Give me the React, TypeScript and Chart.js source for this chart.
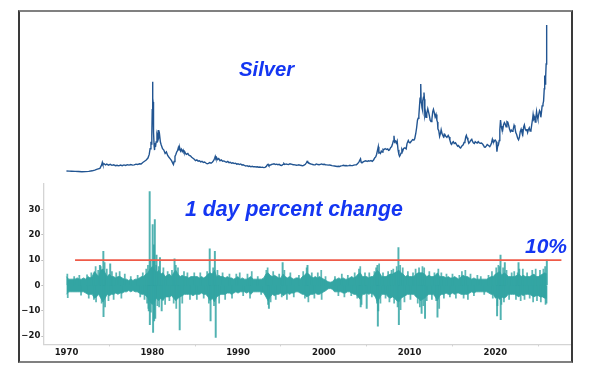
import React, { useEffect, useRef } from "react";
import { Chart, registerables } from "chart.js";
Chart.register(...registerables);

// ---- Silver price (USD/oz) ----
const silverYears = [
  1970.0, 1970.3, 1970.6, 1971.0, 1971.4, 1971.8, 1972.2, 1972.6, 1973.0, 1973.3, 1973.6, 1973.9,
  1974.1, 1974.18, 1974.25, 1974.4, 1974.55, 1974.7, 1974.9, 1975.1, 1975.3, 1975.5, 1975.7, 1975.9,
  1976.1, 1976.3, 1976.5, 1976.7, 1976.9, 1977.1, 1977.3, 1977.5, 1977.7, 1977.9, 1978.1, 1978.3,
  1978.5, 1978.7, 1978.9, 1979.1, 1979.3, 1979.5, 1979.65, 1979.75, 1979.85, 1979.9, 1979.95, 1980.0,
  1980.04, 1980.07, 1980.1, 1980.13, 1980.17, 1980.22, 1980.27, 1980.33, 1980.38, 1980.45, 1980.55, 1980.62,
  1980.7, 1980.76, 1980.85, 1980.95, 1981.05, 1981.2, 1981.35, 1981.5, 1981.65, 1981.8, 1981.95, 1982.1,
  1982.25, 1982.4, 1982.47, 1982.55, 1982.65, 1982.75, 1982.85, 1982.95, 1983.05, 1983.12, 1983.2, 1983.3,
  1983.4, 1983.5, 1983.6, 1983.7, 1983.8, 1983.9, 1984.0, 1984.15, 1984.3, 1984.45, 1984.6, 1984.75,
  1984.9, 1985.05, 1985.2, 1985.35, 1985.5, 1985.65, 1985.8, 1985.95, 1986.1, 1986.25, 1986.4, 1986.55,
  1986.7, 1986.85, 1987.0, 1987.15, 1987.28, 1987.35, 1987.42, 1987.5, 1987.6, 1987.75, 1987.9, 1988.05,
  1988.2, 1988.35, 1988.5, 1988.65, 1988.8, 1988.95, 1989.1, 1989.25, 1989.4, 1989.55, 1989.7, 1989.85,
  1990.0, 1990.15, 1990.3, 1990.45, 1990.6, 1990.75, 1990.9, 1991.05, 1991.2, 1991.35, 1991.5, 1991.65,
  1991.8, 1991.95, 1992.1, 1992.25, 1992.4, 1992.55, 1992.7, 1992.85, 1993.0, 1993.15, 1993.3, 1993.4,
  1993.5, 1993.6, 1993.75, 1993.9, 1994.05, 1994.2, 1994.35, 1994.5, 1994.65, 1994.8, 1994.95, 1995.1,
  1995.25, 1995.35, 1995.45, 1995.6, 1995.75, 1995.9, 1996.05, 1996.2, 1996.35, 1996.5, 1996.65, 1996.8,
  1996.95, 1997.1, 1997.25, 1997.4, 1997.55, 1997.7, 1997.85, 1997.95, 1998.05, 1998.1, 1998.15, 1998.25,
  1998.4, 1998.55, 1998.7, 1998.85, 1999.0, 1999.15, 1999.3, 1999.45, 1999.6, 1999.75, 1999.9, 2000.05,
  2000.2, 2000.35, 2000.5, 2000.65, 2000.8, 2000.95, 2001.1, 2001.25, 2001.4, 2001.55, 2001.7, 2001.85,
  2002.0, 2002.15, 2002.3, 2002.45, 2002.6, 2002.75, 2002.9, 2003.05, 2003.2, 2003.35, 2003.5, 2003.65,
  2003.8, 2003.95, 2004.1, 2004.2, 2004.28, 2004.35, 2004.45, 2004.6, 2004.75, 2004.9, 2005.05, 2005.2,
  2005.35, 2005.5, 2005.65, 2005.8, 2005.95, 2006.05, 2006.15, 2006.25, 2006.35, 2006.42, 2006.5, 2006.6,
  2006.7, 2006.8, 2006.9, 2007.0, 2007.15, 2007.3, 2007.45, 2007.55, 2007.65, 2007.8, 2007.9, 2008.0,
  2008.1, 2008.18, 2008.25, 2008.35, 2008.45, 2008.55, 2008.65, 2008.75, 2008.83, 2008.92, 2009.0, 2009.1,
  2009.2, 2009.3, 2009.45, 2009.6, 2009.7, 2009.85, 2009.95, 2010.05, 2010.2, 2010.35, 2010.5, 2010.6,
  2010.72, 2010.82, 2010.92, 2011.0, 2011.08, 2011.15, 2011.22, 2011.3, 2011.35, 2011.4, 2011.45, 2011.5,
  2011.55, 2011.62, 2011.68, 2011.73, 2011.78, 2011.85, 2011.92, 2012.0, 2012.12, 2012.2, 2012.3, 2012.4,
  2012.5, 2012.6, 2012.7, 2012.78, 2012.88, 2012.98, 2013.08, 2013.18, 2013.25, 2013.3, 2013.4, 2013.5,
  2013.6, 2013.68, 2013.78, 2013.88, 2014.0, 2014.1, 2014.2, 2014.35, 2014.5, 2014.6, 2014.7, 2014.8,
  2014.9, 2015.0, 2015.1, 2015.2, 2015.35, 2015.5, 2015.6, 2015.7, 2015.85, 2015.95, 2016.1, 2016.25,
  2016.35, 2016.45, 2016.55, 2016.62, 2016.7, 2016.8, 2016.9, 2017.0, 2017.12, 2017.25, 2017.35, 2017.45,
  2017.55, 2017.65, 2017.75, 2017.88, 2018.0, 2018.12, 2018.25, 2018.38, 2018.5, 2018.62, 2018.72, 2018.82,
  2018.95, 2019.05, 2019.2, 2019.35, 2019.45, 2019.55, 2019.65, 2019.72, 2019.82, 2019.92, 2020.0, 2020.1,
  2020.18, 2020.25, 2020.35, 2020.45, 2020.52, 2020.6, 2020.68, 2020.75, 2020.85, 2020.95, 2021.05, 2021.15,
  2021.25, 2021.35, 2021.45, 2021.55, 2021.65, 2021.75, 2021.85, 2021.95, 2022.05, 2022.18, 2022.28, 2022.38,
  2022.48, 2022.6, 2022.7, 2022.8, 2022.9, 2023.0, 2023.1, 2023.2, 2023.3, 2023.38, 2023.48, 2023.58,
  2023.68, 2023.76, 2023.85, 2023.95, 2024.05, 2024.15, 2024.25, 2024.35, 2024.4, 2024.48, 2024.58, 2024.65,
  2024.73, 2024.8, 2024.88, 2024.96, 2025.05, 2025.15, 2025.25, 2025.3, 2025.38, 2025.45, 2025.55, 2025.62,
  2025.7, 2025.75, 2025.8, 2025.86, 2025.92, 2025.96, 2025.98, 2026.0,
];
const silverPrices = [
  1.8, 1.75, 1.7, 1.6, 1.55, 1.4, 1.45, 1.6, 1.9, 2.3, 2.8, 3.2,
  5.0, 6.3, 5.2, 5.6, 5.0, 5.4, 4.9, 5.3, 4.8, 5.1, 4.6, 4.8,
  4.5, 4.9, 4.6, 5.0, 4.7, 5.1, 4.9, 5.2, 4.9, 5.0, 5.4, 5.2,
  5.6, 5.5, 6.3, 6.9, 7.6, 8.6, 10.5, 13.5, 17.2, 16.0, 20.7, 34,
  48.7, 40, 38, 27, 22, 15, 12.8, 16.5, 14.5, 17, 20.5, 19,
  23.3, 19.5, 21, 17, 15.5, 13.5, 12.8, 11, 11.8, 10, 9, 8.2,
  7.2, 5.8, 5.2, 6.8, 9.5, 10.5, 11.8, 12.5, 14.2, 13, 14, 12.3,
  13.2, 12.0, 12.8, 11.5, 11.8, 10.8, 10.5, 11.0, 10.0, 9.8, 9.0, 8.5,
  8.0, 7.2, 7.6, 7.0, 7.2, 6.6, 6.9, 6.3, 6.5, 6.0, 5.6, 5.8,
  6.2, 5.9, 6.4, 7.2, 8.5, 9.5, 8.4, 8.9, 7.8, 8.3, 7.2, 7.6,
  6.9, 7.1, 6.7, 6.4, 6.8, 6.2, 6.4, 5.9, 6.1, 5.7, 5.9, 5.4,
  5.6, 5.2, 5.5, 5.0, 5.1, 4.7, 4.4, 4.6, 4.2, 4.4, 4.0, 4.3,
  4.0, 4.1, 3.9, 4.0, 3.8, 3.9, 3.7, 3.8, 3.6, 3.7, 4.2, 5.0,
  5.3, 4.6, 4.9, 5.2, 5.4, 5.6, 5.2, 5.4, 5.1, 5.3, 4.8, 4.7,
  5.3, 5.7, 5.2, 5.5, 5.3, 5.2, 5.6, 5.4, 5.2, 5.1, 5.0, 4.8,
  4.9, 5.1, 4.8, 4.7, 4.5, 4.9, 5.3, 6.0, 6.8, 7.2, 6.4, 6.1,
  5.6, 5.4, 5.2, 5.0, 5.1, 5.5, 5.2, 5.1, 5.3, 5.5, 5.2, 5.3,
  5.1, 5.0, 4.9, 5.0, 4.8, 4.6, 4.5, 4.4, 4.3, 4.2, 4.3, 4.2,
  4.5, 4.6, 4.8, 4.6, 4.7, 4.5, 4.6, 4.8, 4.6, 4.6, 4.9, 5.0,
  5.1, 5.7, 6.6, 7.5, 8.2, 6.4, 6.2, 6.6, 7.0, 7.2, 6.8, 7.2,
  7.0, 7.3, 6.9, 7.6, 8.8, 9.2, 10.5, 12.5, 14.6, 11.3, 11.5, 11.0,
  12.3, 11.8, 13.2, 13.0, 13.6, 13.1, 13.4, 12.6, 12.8, 14.2, 14.5, 15.8,
  17.6, 20.3, 17.0, 17.5, 16.5, 17.6, 13.0, 10.5, 9.5, 10.2, 11.2, 13.2,
  12.3, 13.6, 14.0, 13.4, 16.2, 17.8, 16.8, 16.6, 17.4, 18.3, 18.0, 18.8,
  21.5, 24.5, 28.5, 29.5, 31.0, 35.5, 40.0, 47.5, 38, 37.0, 35.0, 33.5,
  38.5, 40.5, 43.0, 39.5, 31, 32.5, 30.0, 32.0, 34.5, 33.0, 31.0, 28.5,
  27.8, 29.0, 33.0, 34.2, 32.5, 30.2, 31.5, 28.5, 27.5, 24.0, 23.0, 20.0,
  21.6, 23.5, 21.5, 20.5, 19.8, 21.0, 20.2, 19.5, 20.5, 19.6, 18.0, 16.5,
  15.8, 16.8, 17.2, 16.2, 16.6, 15.5, 14.8, 15.2, 14.2, 13.9, 15.0, 15.6,
  16.8, 17.2, 19.8, 20.5, 19.2, 18.0, 16.3, 16.8, 17.8, 18.4, 17.2, 16.5,
  16.2, 17.2, 16.8, 16.5, 17.2, 16.6, 16.4, 16.5, 16.0, 15.2, 14.4, 14.3,
  15.0, 15.7, 15.2, 14.6, 15.3, 16.5, 18.5, 17.5, 17.0, 17.9, 18.0, 17.2,
  12.0, 14.5, 15.5, 17.8, 23.5, 28.5, 25.5, 24.0, 23.2, 26.0, 27.2, 26.5,
  25.0, 27.8, 27.5, 25.8, 23.8, 22.5, 23.3, 22.6, 23.0, 25.8, 24.5, 22.0,
  21.0, 19.0, 18.2, 19.5, 22.5, 23.8, 22.0, 21.0, 25.0, 26.0, 23.8, 23.0,
  23.8, 22.0, 23.5, 24.5, 22.8, 23.2, 26.5, 29.5, 31.5, 29.0, 29.8, 27.5,
  30.0, 33.0, 30.5, 29.0, 31.5, 33.5, 32.5, 30.0, 33.0, 36.0, 37.0, 38.5,
  45.0, 52.0, 47.5, 51.0, 58.0, 66.0, 72.0, 78.5,
];

// ---- 1 day percent change: quarterly envelope of the dense core band (1970.00 .. 2026.00) ----
const bandStartYear = 1970;
const bandStepYears = 0.25;
const pctUpper = [
  3.5, 2.5, 2.5, 2.5, 2.5, 3, 2.5, 2.5, 3, 2.5, 3.5, 3, 3.5, 5.5, 4.5, 3.5, 6, 6.5, 5, 3.5,
  4.5, 3.5, 3.5, 3, 3.5, 3.5, 3, 2.5, 2.5, 2, 2.5, 2, 2.5, 2.5, 3, 3.5, 3.5, 4.5, 5, 6.5,
  7.5, 6.5, 5, 6, 4.5, 5, 3.5, 4, 4.5, 3.5, 5, 6, 4.5, 3.5, 4, 3.5, 3.5, 3, 3.5, 3.5,
  3.5, 3.5, 3, 3.5, 3, 3.5, 4.5, 5, 4.5, 6, 3.5, 4, 3.5, 3.5, 3, 3.5, 3, 3, 2.5, 3,
  3.5, 2.5, 3, 2.5, 2.5, 3, 3.5, 2.5, 2.5, 2.5, 2.5, 2.5, 3, 4.5, 5, 4, 3.5, 4, 3.5, 3,
  3, 4.5, 3.5, 3, 3.5, 3, 2.5, 3, 3, 2.5, 3.5, 4, 5, 4.5, 3.5, 3, 3.5, 3, 3.5, 3,
  2.5, 2, 1.5, 1.3, 1.5, 2.5, 2.5, 3, 2.5, 3, 2.5, 2.5, 3, 3.5, 3, 3.5, 4.5, 5, 3.5, 3.5,
  3.5, 3, 3.5, 3.5, 5, 6, 5, 3.5, 3.5, 3.5, 4, 4.5, 4.5, 5, 5.5, 6, 5, 4.5, 3.5, 4,
  3.5, 3.5, 3.5, 4.5, 5, 5, 5, 4.5, 3.5, 4, 3.5, 3.5, 4, 5, 3.5, 3.5, 3.5, 3, 3.5, 3,
  3, 3.5, 3, 2.5, 3.5, 4, 3.5, 3.5, 3, 2.5, 3, 2.5, 2.5, 2.5, 2.5, 2.5, 2.5, 3, 3.5, 3.5,
  4.5, 5, 5.5, 4, 5, 4.5, 3.5, 3.5, 3.5, 3.5, 4, 4.5, 3.5, 4, 3.5, 3.5, 3.5, 4, 4.5, 3.5,
  3.5, 4, 4.5, 5, 4.5,
];
const pctLower = [
  -3.5, -2.5, -2.5, -2.5, -2.5, -2.5, -2.5, -2.5, -2.5, -3, -3.5, -3.5, -3.5, -5, -4.5, -3.5, -5, -6.5, -5, -3.5,
  -4, -3.5, -3.5, -3, -3.5, -3, -3, -2.5, -2.5, -2, -2.5, -2, -2.5, -2.5, -3, -3.5, -3.5, -4, -5, -6.5,
  -7.5, -6.5, -5, -6, -5, -6, -4.5, -4.5, -4.5, -4, -5, -6, -5, -4.5, -4, -3.5, -3.5, -3.5, -3.5, -4,
  -3.5, -3.5, -3.5, -3, -3.5, -3.5, -4.5, -6, -5, -6.5, -4.5, -4, -3.5, -3.5, -3.5, -3, -3, -3.5, -3, -2.5,
  -3, -2.5, -2.5, -2.5, -3, -2.5, -3.5, -2.5, -2.5, -2.5, -2.5, -2.5, -3, -4.5, -6, -4.5, -3.5, -4, -3.5, -3.5,
  -3, -4, -3.5, -3, -3.5, -3, -3, -2.5, -2.5, -3, -3.5, -3.5, -4.5, -4, -3.5, -3.5, -3, -3.5, -3.5, -3,
  -2.5, -2, -1.3, -1.2, -1.5, -2.5, -2.5, -2.5, -2.5, -3, -3, -2.5, -2.5, -3, -3.5, -3.5, -4.5, -5.5, -3.5, -3.5,
  -3, -3.5, -3, -3.5, -4.5, -6.5, -5, -3.5, -3.5, -3.5, -4.5, -5, -4.5, -5, -6, -6.5, -5, -4.5, -4, -3.5,
  -3.5, -3.5, -3.5, -4.5, -5, -6, -5.5, -5, -4, -3.5, -3.5, -3.5, -4.5, -6, -4, -3.5, -3.5, -3, -3.5, -3.5,
  -3, -3.5, -3, -3, -3.5, -3.5, -3.5, -3.5, -3, -2.5, -3, -2.5, -2.5, -2.5, -2.5, -2.5, -2.5, -3, -3.5, -3.5,
  -5, -4.5, -5.5, -4.5, -5, -4.5, -3.5, -3.5, -3.5, -3.5, -4, -4.5, -3.5, -4, -3.5, -3.5, -3.5, -4, -4.5, -4,
  -4, -4.5, -4.5, -5, -5,
];

// ---- Moderate daily moves sticking out of the band ----
const moveYears = [
  1970.1, 1970.15, 1970.9, 1971.5, 1971.7, 1972.4, 1972.6, 1972.9, 1973.2, 1973.4, 1973.45, 1973.7,
  1974.0, 1974.1, 1974.45, 1974.5, 1974.7, 1974.9, 1975.3, 1975.5, 1975.8, 1976.2, 1976.4, 1976.8,
  1977.5, 1978.3, 1978.6, 1978.9, 1979.1, 1979.3, 1979.4, 1979.5, 1979.55, 1979.8, 1979.85, 1980.15,
  1980.25, 1980.45, 1980.6, 1980.75, 1980.8, 1981.3, 1981.5, 1981.8, 1982.0, 1982.3, 1982.5, 1982.75,
  1982.8, 1983.0, 1983.5, 1983.7, 1984.1, 1984.4, 1984.9, 1985.2, 1985.6, 1986.0, 1986.4, 1986.6,
  1987.1, 1987.2, 1987.6, 1987.8, 1988.2, 1988.5, 1989.0, 1989.3, 1989.8, 1990.2, 1990.6, 1991.1,
  1991.4, 1991.6, 1992.3, 1992.7, 1993.3, 1993.45, 1993.5, 1993.8, 1994.1, 1994.4, 1994.8, 1995.1,
  1995.4, 1995.7, 1996.1, 1996.5, 1997.1, 1997.6, 1997.8, 1998.0, 1998.2, 1998.6, 1998.9, 1999.3,
  1999.7, 1999.75, 2000.2, 2001.3, 2001.7, 2002.1, 2002.4, 2002.8, 2003.2, 2003.6, 2003.9, 2004.1,
  2004.25, 2004.4, 2004.8, 2005.3, 2005.6, 2005.9, 2006.1, 2006.2, 2006.45, 2006.6, 2006.9, 2007.2,
  2007.5, 2007.65, 2007.9, 2008.1, 2008.2, 2008.5, 2008.6, 2008.9, 2008.95, 2009.2, 2009.4, 2009.8,
  2010.1, 2010.4, 2010.7, 2010.95, 2011.1, 2011.2, 2011.5, 2011.6, 2011.7, 2012.0, 2012.3, 2012.6,
  2012.9, 2013.1, 2013.35, 2013.45, 2013.7, 2014.0, 2014.3, 2014.7, 2015.0, 2015.4, 2015.8, 2016.1,
  2016.3, 2016.5, 2016.8, 2017.1, 2017.5, 2017.9, 2018.3, 2018.7, 2019.2, 2019.6, 2019.7, 2020.1,
  2020.25, 2020.35, 2020.5, 2020.7, 2020.9, 2021.0, 2021.3, 2021.6, 2021.9, 2022.2, 2022.4, 2022.6,
  2022.8, 2022.95, 2023.2, 2023.4, 2023.7, 2024.0, 2024.3, 2024.4, 2024.7, 2024.85, 2025.2, 2025.3,
  2025.6, 2025.8, 2025.85,
];
const moveValues = [
  4.5, -4.8, 3.5, 4, -3.8, 4.2, -5, 5, -5.5, 7.5, -6.5, 6,
  7.5, -7, 9, -8.5, 6.5, -6, 5.5, -5.5, 5, 5.5, -5, 4.5,
  3.5, 4, -4.5, 5, -5.5, 6.5, -7, 8, -9, 10, -10.5, 9.5,
  -9.5, 8, -8, 7.5, -8.5, 7, -7.5, 5.5, -6, 6, -7, 8,
  -9, 7, -7, 5.5, 5, -5.5, 5, -5.5, 5, -5, 5.5, -7,
  7, -8, 6, -7, 5, -5.5, 4.5, -5, 4.5, 5, -4, 4.5,
  -5, 5.5, 3.5, -3.5, 6, 7, -7.5, -6.5, 5.5, -5.5, 4.5, -4.5,
  6, -5.5, 5, -4.5, 4, 5.5, -5, 7, -6.5, 5, -5, 5,
  6, -5.5, 3.5, 3.5, -4, 4.5, -4.5, 4, -4, 5, -5, 6.5,
  7.5, -7.5, 5, 5, -4.5, 5.5, 7, -7, 8.5, -7, 5, -5,
  5.5, -6.5, 6, 6.5, -7, 7.5, -8.5, 8, -9.5, 7, -6.5, 5.5,
  -5.5, 5, 6.5, -7, 7, -8.5, 7.5, -8, 7, -6, 5.5, -5.5,
  5, -6, 6.5, -9, 5, -5, 4.5, -4.5, 4.5, -5, 4, 5.5,
  -5, 6, -5.5, 4.5, -4, 4, 3.5, -3.5, 4, 5.5, -5, 7,
  -8, 8, 7.5, -7.5, 7, -6.5, 6, -5.5, 5, 5.5, -5.5, 5,
  6.5, -6, 6.5, -5.5, 5, -5, 6, -6.5, 6.5, -6, 6, -6.5,
  6.5, 7.5, -7.5,
];

// ---- Isolated large daily moves (spikes) ----
const spikeYears = [
  1973.9, 1974.3, 1974.32, 1975.1, 1979.6, 1979.7, 1979.72, 1980.05, 1980.1, 1980.2, 1980.22, 1980.3,
  1980.35, 1980.5, 1980.9, 1981.1, 1982.6, 1983.2, 1986.7, 1986.8, 1987.3, 1987.4, 1993.6, 1995.2,
  1998.1, 2004.3, 2005.0, 2006.25, 2006.3, 2006.35, 2008.7, 2008.75, 2011.4, 2011.8, 2013.25, 2020.2,
  2020.6, 2020.62, 2021.1, 2022.7, 2025.95, 2026.0,
];
const spikeValues = [
  8, 13.5, -12.3, 8.5, -10, 37, -15.5, 24, -18.5, 16, -14, 26,
  -13, 12, 11, -10, 10.5, -17.5, 14.5, -14, 13.5, -20.5, -9, 9,
  8, -8.5, -9, 8, -16, -10, 15, -15.5, -11, -13, -12.5, -12,
  12, -13.5, 9, 9, -7, 10,
];

// ---- Threshold line and axes ----
const thresholdYears = [1971, 2027.7];
const thresholdValue = 10;
const xTicks = [1970, 1980, 1990, 2000, 2010, 2020];
const yTicks = [-20, -10, 0, 10, 20, 30];
const X_MIN = 1967.3;
const X_MAX = 2028.7;

const TEAL = "#33a5a3";

export default function App() {
  const topRef = useRef<HTMLCanvasElement | null>(null);
  const botRef = useRef<HTMLCanvasElement | null>(null);

  useEffect(() => {
    const tickFont = { family: "DejaVu Sans", size: 8.5, weight: "bold" as const };

    const top = new Chart(topRef.current!, {
      type: "line",
      data: {
        datasets: [
          {
            data: silverYears.map((x, i) => ({ x, y: silverPrices[i] })),
            borderColor: "#225592",
            borderWidth: 1.4,
            pointRadius: 0,
            tension: 0,
          },
        ],
      },
      options: {
        animation: false,
        responsive: false,
        maintainAspectRatio: false,
        layout: { padding: { left: 23.3, right: 1, top: 3, bottom: 1 } },
        scales: {
          x: { type: "linear", min: X_MIN, max: X_MAX, display: false },
          y: { type: "linear", min: -1.35, max: 83.73, display: false },
        },
        plugins: { legend: { display: false }, tooltip: { enabled: false } },
      },
    });

    const upper = pctUpper.map((y, i) => ({ x: bandStartYear + i * bandStepYears, y }));
    const lower = pctLower.map((y, i) => ({ x: bandStartYear + i * bandStepYears, y }));

    const bot = new Chart(botRef.current!, {
      type: "line",
      data: {
        datasets: [
          {
            type: "line",
            data: thresholdYears.map((x) => ({ x, y: thresholdValue })),
            borderColor: "#ef5a48",
            borderWidth: 1.8,
            pointRadius: 0,
            fill: false,
            order: 0,
          },
          {
            type: "bar",
            data: spikeYears.map((x, i) => ({ x, y: spikeValues[i] })),
            backgroundColor: "rgba(51,165,163,0.85)",
            barThickness: 1.3,
            grouped: false,
            order: 1,
          } as any,
          {
            type: "bar",
            data: moveYears.map((x, i) => ({ x, y: moveValues[i] })),
            backgroundColor: "rgba(51,165,163,0.8)",
            barThickness: 1.1,
            grouped: false,
            order: 2,
          } as any,
          {
            type: "line",
            data: upper,
            borderColor: TEAL,
            borderWidth: 0.8,
            backgroundColor: TEAL,
            pointRadius: 0,
            tension: 0,
            fill: "+1",
            order: 3,
          },
          {
            type: "line",
            data: lower,
            borderColor: TEAL,
            borderWidth: 0.8,
            backgroundColor: TEAL,
            pointRadius: 0,
            tension: 0,
            fill: false,
            order: 4,
          },
        ],
      },
      options: {
        animation: false,
        responsive: false,
        maintainAspectRatio: false,
        layout: { padding: { left: 0, right: 1, top: 5, bottom: 0 } },
        scales: {
          x: {
            type: "linear",
            min: X_MIN,
            max: X_MAX,
            offset: false,
            grid: { display: true, drawOnChartArea: false, drawTicks: true, tickLength: 2, color: "#bdbdbd" },
            border: { display: true, color: "#d4d4d4", width: 1.3 },
            ticks: {
              font: tickFont,
              color: "#1a1a1a",
              padding: 1,
              maxRotation: 0,
              autoSkip: false,
              callback: (v: any) => String(v),
            },
            afterBuildTicks: (s: any) => {
              s.ticks = xTicks.map((v) => ({ value: v }));
            },
            afterFit: (s: any) => {
              s.height = 16.7;
            },
          },
          y: {
            type: "linear",
            min: -23.2,
            max: 40,
            grid: { display: true, drawOnChartArea: false, drawTicks: true, tickLength: 2, color: "#bdbdbd" },
            border: { display: true, color: "#d4d4d4", width: 1.3 },
            ticks: {
              font: tickFont,
              color: "#1a1a1a",
              padding: 1,
              callback: (v: any) => (v < 0 ? "\u2212" + Math.abs(v) : String(v)),
            },
            afterBuildTicks: (s: any) => {
              s.ticks = yTicks.map((v) => ({ value: v }));
            },
            afterFit: (s: any) => {
              s.width = 23.3;
            },
          },
        },
        plugins: { legend: { display: false }, tooltip: { enabled: false } },
      },
    });

    return () => {
      top.destroy();
      bot.destroy();
    };
  }, []);

  const label: React.CSSProperties = {
    position: "absolute",
    fontFamily: "'Liberation Sans', Arial, sans-serif",
    fontWeight: "bold",
    fontStyle: "italic",
    color: "#1436f2",
    lineHeight: 1,
    whiteSpace: "nowrap",
  };

  return (
    <div
      style={{
        position: "absolute",
        left: 18,
        top: 10,
        width: 551,
        height: 349,
        borderTop: "2px solid #808080",
        borderBottom: "2px solid #808080",
        borderLeft: "2px solid #3a3a3a",
        borderRight: "2px solid #3a3a3a",
        background: "#fff",
      }}
    >
      <canvas ref={topRef} width={551} height={166} style={{ position: "absolute", left: 0, top: 0, display: "block" }} />
      <canvas ref={botRef} width={551} height={183} style={{ position: "absolute", left: 0, top: 166, display: "block" }} />
      <div style={{ ...label, left: 219, top: 46.5, fontSize: 20.3 }}>Silver</div>
      <div style={{ ...label, left: 165, top: 186.8, fontSize: 21.3 }}>1 day percent change</div>
      <div style={{ ...label, left: 505, top: 222.7, fontSize: 21 }}>10%</div>
    </div>
  );
}
